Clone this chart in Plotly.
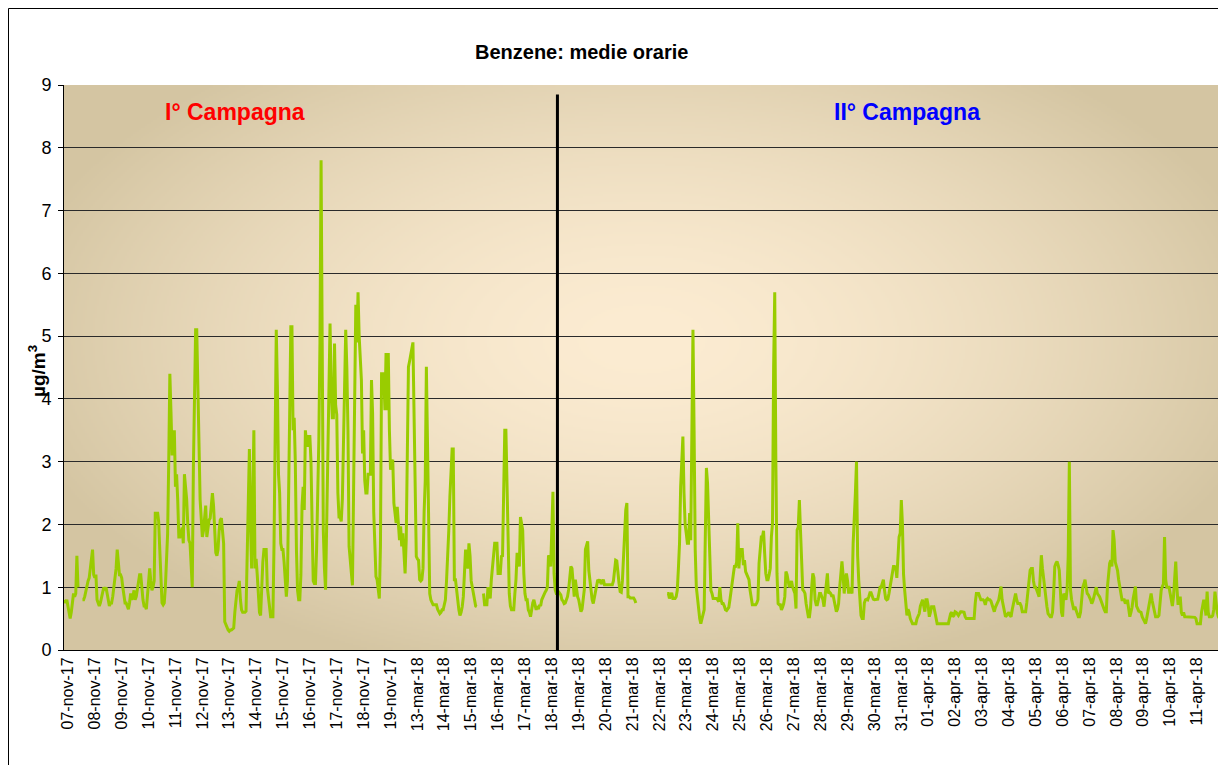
import base64, struct, zlib
import numpy as np
import plotly.graph_objects as go

# ---------------- data (hourly means, µg/m³) ----------------
day_labels = [
    "07-nov-17", "08-nov-17", "09-nov-17", "10-nov-17", "11-nov-17", "12-nov-17", "13-nov-17",
    "14-nov-17", "15-nov-17", "16-nov-17", "17-nov-17", "18-nov-17", "19-nov-17",
    "13-mar-18", "14-mar-18", "15-mar-18", "16-mar-18", "17-mar-18", "18-mar-18",
    "19-mar-18", "20-mar-18", "21-mar-18", "22-mar-18", "23-mar-18", "24-mar-18", "25-mar-18",
    "26-mar-18", "27-mar-18", "28-mar-18", "29-mar-18", "30-mar-18", "31-mar-18",
    "01-apr-18", "02-apr-18", "03-apr-18", "04-apr-18", "05-apr-18", "06-apr-18", "07-apr-18",
    "08-apr-18", "09-apr-18", "10-apr-18", "11-apr-18",
]

v_07nov17 = [0.8, 0.75, 0.8, 0.7, 0.6, 0.5, 0.6, 0.8, 0.9, 0.85, 0.9, 1.5, 1.0, None, None, None, 0.8, 0.8, 0.85, 0.95, 1.0, 1.1, 1.15, 1.3]
v_08nov17 = [1.45, 1.6, 1.2, 1.15, 1.2, 0.8, 0.75, 0.7, 0.75, 0.85, 0.95, 1.0, 0.95, 1.0, 0.9, 0.75, 0.7, 0.75, 0.75, 0.85, 1.0, 1.05, 1.3, 1.6]
v_09nov17 = [1.4, 1.2, 1.2, 1.15, 1.0, 0.9, 0.75, 0.75, 0.7, 0.65, 0.75, 0.9, 0.8, 0.85, 0.95, 0.8, 0.85, 1.0, 1.05, 1.2, 1.2, 0.95, 0.8, 0.7]
v_10nov17 = [0.7, 0.65, 0.9, 1.1, 1.3, 1.1, 0.95, 1.0, 1.1, 2.2, 2.1, 2.2, 2.05, 1.6, 1.2, 0.75, 0.72, 0.75, 1.0, 1.5, 1.85, 3.0, 4.4, 3.8]
v_11nov17 = [3.1, 3.4, 3.5, 2.6, 2.8, 2.4, 1.8, 1.8, 1.9, 1.95, 1.7, 2.8, 2.6, 2.4, 2.0, 1.75, 1.7, 1.2, 1.0, 2.9, 4.5, 5.1, 5.1, 4.0]
v_12nov17 = [2.9, 2.4, 2.1, 1.8, 1.9, 2.1, 2.3, 1.8, 2.0, 2.07, 2.1, 2.3, 2.5, 2.3, 2.0, 1.55, 1.5, 1.6, 1.9, 2.07, 2.1, 1.9, 1.7, 0.45]
v_13nov17 = [0.4, 0.35, 0.32, 0.3, 0.32, 0.32, 0.33, 0.35, 0.6, 0.8, 0.95, 1.0, 1.1, 0.8, 0.64, 0.6, 0.6, 0.6, 0.62, 1.4, 2.5, 3.2, 2.0, 1.3]
v_14nov17 = [2.4, 3.5, 1.3, 1.45, 1.2, 0.95, 0.6, 0.55, 1.1, 1.4, 1.6, 1.6, 1.6, 1.0, 0.8, 0.6, 0.53, 0.53, 0.53, 1.7, 3.5, 5.1, 4.2, 2.8]
v_15nov17 = [2.5, 1.7, 1.6, 1.6, 1.4, 1.05, 0.85, 1.1, 2.6, 4.6, 5.15, 5.15, 3.5, 3.7, 3.0, 1.6, 0.95, 0.8, 0.8, 1.2, 2.3, 2.6, 2.23, 3.5]
v_16nov17 = [3.3, 3.24, 3.4, 3.4, 3.0, 2.0, 1.1, 1.06, 1.06, 1.6, 2.5, 3.35, 4.9, 7.8, 4.9, 1.9, 1.3, 0.96, 2.0, 3.3, 4.5, 5.2, 4.2, 3.7]
v_17nov17 = [3.7, 4.88, 3.9, 3.75, 2.5, 2.12, 2.12, 2.05, 2.4, 3.2, 4.5, 5.1, 4.5, 3.5, 1.65, 1.4, 1.27, 1.03, 2.5, 3.8, 5.5, 4.9, 5.7, 5.0]
v_18nov17 = [4.5, 4.3, 3.13, 3.5, 2.7, 2.5, 2.5, 2.8, 2.8, 2.8, 4.3, 3.77, 2.2, 1.5, 1.17, 1.12, 1.0, 0.82, 1.65, 4.4, 4.4, 4.4, 3.82, 4.73]
v_19nov17 = [3.82, 4.73, 3.5, 2.87, 3.0, 3.03, 2.34, 2.2, 2.02, 2.28, 2.0, 1.75, 1.97, 1.65, 1.86, 1.5, 1.22, 1.75, 3.5, 4.51, 4.6, 4.73, 4.8, 4.9]
v_13mar18 = [3.9, 2.5, 1.49, 1.45, 1.43, 1.12, 1.1, 1.12, 1.3, 2.2, 2.7, 4.51, 3.0, 2.18, 0.9, 0.8, 0.74, 0.72, 0.72, 0.72, 0.72, 0.65, 0.6, 0.58]
v_14mar18 = [0.6, 0.64, 0.64, 0.7, 0.8, 1.1, 1.4, 1.9, 2.44, 3.0, 3.2, 3.2, 1.12, 1.12, 0.9, 0.8, 0.64, 0.55, 0.6, 0.69, 0.85, 1.4, 1.6, 1.4]
v_15mar18 = [1.3, 1.7, 1.5, 1.1, 1.0, 0.85, 0.75, 0.7, 0.69, None, None, None, None, None, 0.9, 0.72, 0.72, 0.72, 1.0, 0.9, 0.82, 1.12, 1.3, 1.5]
v_16mar18 = [1.7, 1.7, 1.7, 1.22, 1.22, 1.22, 1.49, 1.5, 2.5, 3.5, 3.5, 2.5, 1.91, 0.9, 0.7, 0.64, 0.64, 0.64, 0.9, 1.12, 1.55, 1.45, 1.33, 2.12]
v_17mar18 = [2.0, 1.91, 1.22, 0.9, 0.8, 0.8, 0.64, 0.6, 0.53, 0.69, 0.75, 0.8, 0.7, 0.64, 0.7, 0.65, 0.72, 0.7, 0.8, 0.85, 0.9, 0.92, 0.95, 1.0]
v_18mar18 = [1.49, 1.5, 1.33, 1.96, 2.52, 1.22, 0.96, 0.9, 0.9, 0.93, 0.9, 0.88, 0.8, 0.78, 0.74, 0.75, 0.8, 0.85, 0.96, 1.1, 1.33, 1.3, 1.06, 0.85]
v_19mar18 = [1.12, 0.95, 0.85, 0.8, 0.69, 0.61, 0.65, 0.8, 0.96, 1.6, 1.65, 1.73, 1.27, 1.1, 0.9, 0.8, 0.74, 0.85, 0.95, 1.04, 1.12, 1.1, 1.12, 1.05]
v_20mar18 = [1.08, 1.12, 1.04, 1.04, 1.04, 1.04, 1.04, 1.04, 1.04, 1.04, 1.1, 1.3, 1.43, 1.42, 1.2, 1.06, 0.93, 0.92, 1.1, 1.5, 1.96, 2.23, 2.34, 0.85]
v_21mar18 = [0.85, 0.83, 0.83, 0.83, 0.83, 0.8, 0.75] + [None] * 17
v_22mar18 = [None] * 10 + [0.9, 0.9, 0.82, 0.88, 0.91, 0.82, 0.82, 0.82, 0.85, 0.95, 1.3, 1.7, 2.6, 3.2]
v_23mar18 = [3.4, 2.5, 2.0, 1.86, 1.7, 1.7, 2.18, 1.75, 3.45, 5.1, 3.5, 1.6, 1.0, 0.8, 0.58, 0.5, 0.42, 0.48, 0.55, 0.64, 1.8, 2.9, 2.66, 2.0]
v_24mar18 = [1.6, 0.95, 0.9, 0.82, 0.82, 0.82, 0.82, 0.8, 0.77, 1.0, 0.8, 0.74, 0.74, 0.7, 0.64, 0.63, 0.66, 0.68, 0.8, 0.96, 1.04, 1.2, 1.33, 1.33]
v_25mar18 = [1.4, 2.02, 1.3, 1.55, 1.6, 1.6, 1.35, 1.43, 1.25, 1.2, 1.18, 1.12, 0.95, 0.8, 0.72, 0.72, 0.72, 0.72, 0.75, 0.8, 1.38, 1.6, 1.8, 1.8]
v_26mar18 = [1.9, 1.54, 1.22, 1.12, 1.12, 1.2, 1.3, 1.8, 2.02, 4.5, 5.7, 3.0, 1.22, 0.74, 0.72, 0.72, 0.64, 0.68, 0.74, 0.85, 1.25, 1.2, 1.05, 1.0]
v_27mar18 = [1.05, 1.1, 1.0, 0.96, 0.9, 0.66, 1.91, 1.96, 2.39, 1.9, 1.2, 0.96, 0.94, 0.9, 0.74, 0.6, 0.53, 0.53, 0.68, 1.0, 1.22, 1.15, 0.8, 0.72]
v_28mar18 = [0.72, 0.8, 0.9, 0.9, 0.85, 0.8, 0.69, 0.9, 1.12, 1.22, 0.9, 0.92, 0.9, 0.85, 0.88, 0.8, 0.74, 0.61, 0.65, 0.74, 1.0, 1.2, 1.41, 1.2]
v_29mar18 = [0.9, 1.1, 1.22, 1.1, 0.9, 1.0, 0.95, 0.9, 1.7, 2.02, 2.5, 3.0, 1.5, 1.1, 0.69, 0.55, 0.5, 0.5, 0.75, 0.8, 0.81, 0.8, 0.85, 0.91]
v_30mar18 = [0.91, 0.85, 0.81, 0.8, 0.8, 0.81, 0.81, 0.9, 1.0, 1.0, 1.05, 1.12, 0.95, 0.82, 0.8, 0.81, 0.9, 1.0, 1.12, 1.25, 1.33, 1.33, 1.31, 1.15]
v_31mar18 = [1.5, 1.8, 1.86, 2.39, 2.0, 1.2, 0.95, 0.69, 0.55, 0.65, 0.6, 0.5, 0.45, 0.42, 0.42, 0.42, 0.42, 0.5, 0.55, 0.58, 0.7, 0.77, 0.8, 0.7]
v_01apr18 = [0.61, 0.8, 0.8, 0.7, 0.53, 0.6, 0.69, 0.69, 0.69, 0.6, 0.53, 0.42, 0.42, 0.42, 0.42, 0.42, 0.42, 0.42, 0.42, 0.42, 0.42, 0.42, 0.5, 0.58]
v_02apr18 = [0.6, 0.53, 0.55, 0.61, 0.6, 0.58, 0.55, 0.58, 0.61, 0.61, 0.61, 0.6, 0.53, 0.5, 0.5, 0.5, 0.5, 0.5, 0.5, 0.5, 0.5, 0.75, 0.9, 0.9]
v_03apr18 = [0.9, 0.85, 0.8, 0.8, 0.8, 0.78, 0.72, 0.8, 0.82, 0.8, 0.8, 0.78, 0.72, 0.65, 0.61, 0.68, 0.72, 0.75, 0.8, 0.9, 1.01, 0.8, 0.72, 0.61]
v_04apr18 = [0.53, 0.55, 0.58, 0.6, 0.55, 0.53, 0.64, 0.75, 0.85, 0.9, 0.8, 0.74, 0.74, 0.74, 0.7, 0.61, 0.61, 0.61, 0.61, 0.75, 0.9, 1.12, 1.27, 1.3]
v_05apr18 = [1.3, 1.1, 1.0, 1.0, 0.96, 0.9, 0.85, 1.2, 1.51, 1.3, 1.12, 0.96, 0.8, 0.69, 0.58, 0.55, 0.53, 0.53, 0.6, 0.9, 1.33, 1.38, 1.41, 1.35]
v_06apr18 = [1.27, 0.95, 0.6, 0.53, 0.9, 0.85, 0.8, 0.96, 1.5, 3.0, 0.96, 0.8, 0.7, 0.64, 0.69, 0.64, 0.58, 0.53, 0.53, 0.6, 0.8, 1.0, 1.05, 1.12]
v_07apr18 = [1.0, 0.9, 0.88, 0.85, 0.8, 0.74, 0.78, 0.85, 0.95, 1.0, 0.9, 0.88, 0.85, 0.8, 0.74, 0.69, 0.65, 0.61, 0.61, 1.0, 1.22, 1.38, 1.43, 1.33]
v_08apr18 = [1.91, 1.75, 1.4, 1.33, 1.27, 1.12, 1.0, 0.9, 0.8, 0.8, 0.8, 0.74, 0.78, 0.78, 0.6, 0.53, 0.6, 0.68, 0.82, 0.9, 1.01, 0.7, 0.65, 0.62]
v_09apr18 = [0.61, 0.6, 0.53, 0.5, 0.47, 0.42, 0.5, 0.6, 0.69, 0.85, 0.9, 0.78, 0.7, 0.6, 0.53, 0.53, 0.53, 0.55, 0.85, 0.95, 1.01, 1.05, 1.8, 1.12]
v_10apr18 = [1.0, 1.0, 1.0, 0.9, 0.75, 0.7, 0.85, 1.2, 1.41, 1.0, 0.74, 0.74, 0.85, 0.6, 0.55, 0.6, 0.53, 0.53, 0.53, 0.53, 0.53, 0.53, 0.53, 0.53]
v_11apr18 = [0.53, 0.52, 0.5, 0.42, 0.42, 0.42, 0.42, 0.6, 0.74, 0.8, 0.7, 0.55, 0.93, 0.6, 0.53, 0.53, 0.53, 0.55, 0.65, 0.93, 0.75, 0.6, 0.53, 0.5]

daily_values = [
    v_07nov17, v_08nov17, v_09nov17, v_10nov17, v_11nov17, v_12nov17, v_13nov17,
    v_14nov17, v_15nov17, v_16nov17, v_17nov17, v_18nov17, v_19nov17,
    v_13mar18, v_14mar18, v_15mar18, v_16mar18, v_17mar18, v_18mar18,
    v_19mar18, v_20mar18, v_21mar18, v_22mar18, v_23mar18, v_24mar18, v_25mar18,
    v_26mar18, v_27mar18, v_28mar18, v_29mar18, v_30mar18, v_31mar18,
    v_01apr18, v_02apr18, v_03apr18, v_04apr18, v_05apr18, v_06apr18, v_07apr18,
    v_08apr18, v_09apr18, v_10apr18, v_11apr18,
]

campaign_labels = ["I° Campagna", "II° Campagna"]
campaign_split_hour = 440          # end of first campaign (18-mar-18, ~08:00)
y_ticks = list(range(0, 10))

# ---------------- build series ----------------
HOURS = 24
benzene = [v for day in daily_values for v in day]
hour_index = list(range(len(benzene)))
n_hours = len(benzene)

# ---------------- layout geometry (figure px; page adds 8px body margin) ----------------
W, H = 1226, 765
M_L, M_R, M_T, M_B = 56, 14, 77, 123
PW, PH = W - M_L - M_R, H - M_T - M_B
FONT = "Liberation Sans, Arial, sans-serif"


def px_x(x):
    return (x - M_L) / PW


def px_y(y):
    return 1 - (y - M_T) / PH


def png_uri(rgb):
    h, w, _ = rgb.shape
    raw = b"".join(b"\x00" + rgb[r].tobytes() for r in range(h))

    def chunk(tag, data):
        return (struct.pack(">I", len(data)) + tag + data
                + struct.pack(">I", zlib.crc32(tag + data) & 0xFFFFFFFF))

    png = (b"\x89PNG\r\n\x1a\n"
           + chunk(b"IHDR", struct.pack(">IIBBBBB", w, h, 8, 2, 0, 0, 0))
           + chunk(b"IDAT", zlib.compress(raw, 9))
           + chunk(b"IEND", b""))
    return "data:image/png;base64," + base64.b64encode(png).decode()


# radial (path) gradient used as plot-area fill
gw, gh = PW // 2, PH // 2
uu, vv = np.meshgrid(np.linspace(0, 1, gw), np.linspace(0, 1, gh))
dist = np.sqrt(((uu - 0.5) / 0.56) ** 2 + ((vv - 0.45) / 0.62) ** 2)
t = np.clip(dist, 0, 1) ** 1.6
c_center = np.array([252, 236, 210], float)
c_edge = np.array([212, 197, 162], float)
grad = (c_center[None, None, :] * (1 - t[..., None]) + c_edge[None, None, :] * t[..., None])
grad_uri = png_uri(np.clip(grad, 0, 255).astype(np.uint8))

fig = go.Figure()
fig.add_trace(go.Scatter(
    x=hour_index, y=benzene, mode="lines",
    line=dict(color="#99CC00", width=3),
    connectgaps=False, hoverinfo="skip", showlegend=False,
))

tick_offset = 3
fig.update_xaxes(
    range=[-0.5, n_hours - 0.5],
    tickmode="array",
    tickvals=[d * HOURS + tick_offset for d in range(len(day_labels))],
    ticktext=day_labels,
    tickangle=-90,
    tickfont=dict(family=FONT, size=16, color="black"),
    showgrid=False, zeroline=False,
    showline=True, linecolor="black", linewidth=1,
    ticks="", fixedrange=True, automargin=False,
)
fig.update_yaxes(
    range=[0, 9],
    tickmode="array", tickvals=y_ticks,
    tickfont=dict(family=FONT, size=18, color="black"),
    ticklabelstandoff=3,
    showgrid=True, gridcolor="#2a2a2a", gridwidth=1,
    zeroline=False,
    showline=True, linecolor="black", linewidth=1,
    ticks="outside", ticklen=5, tickcolor="black",
    fixedrange=True, automargin=False,
)

fig.add_shape(type="line", xref="x", yref="y",
              x0=campaign_split_hour, x1=campaign_split_hour, y0=-0.05, y1=8.85,
              line=dict(color="black", width=3))

fig.add_annotation(text="<b>µg/m<sup>3</sup></b>", xref="paper", yref="paper",
                   x=px_x(29), y=px_y(363), xanchor="center", yanchor="middle",
                   textangle=-90, showarrow=False,
                   font=dict(family=FONT, size=19, color="black"))
fig.add_annotation(text="<b>Benzene: medie orarie</b>", xref="paper", yref="paper",
                   x=px_x(573), y=px_y(44), xanchor="center", yanchor="middle",
                   showarrow=False, font=dict(family=FONT, size=20, color="black"))
fig.add_annotation(text="<b>" + campaign_labels[0] + "</b>", xref="paper", yref="paper",
                   x=px_x(227), y=px_y(104), xanchor="center", yanchor="middle",
                   showarrow=False, font=dict(family=FONT, size=23, color="#FF0000"))
fig.add_annotation(text="<b>" + campaign_labels[1] + "</b>", xref="paper", yref="paper",
                   x=px_x(899), y=px_y(104), xanchor="center", yanchor="middle",
                   showarrow=False, font=dict(family=FONT, size=23, color="#0000FF"))

# chart-area border
fig.add_shape(type="rect", xref="paper", yref="paper",
              x0=px_x(0.5), x1=px_x(W + 5), y0=px_y(H + 5), y1=px_y(0.5),
              line=dict(color="black", width=1))

fig.update_layout(
    width=W, height=H,
    margin=dict(l=M_L, r=M_R, t=M_T, b=M_B, pad=0, autoexpand=False),
    paper_bgcolor="white", plot_bgcolor="rgba(0,0,0,0)",
    images=[dict(source=grad_uri, xref="paper", yref="paper", x=0, y=1,
                 sizex=1, sizey=1, xanchor="left", yanchor="top",
                 sizing="stretch", layer="below")],
    font=dict(family=FONT),
)

fig.write_html("out.html")
